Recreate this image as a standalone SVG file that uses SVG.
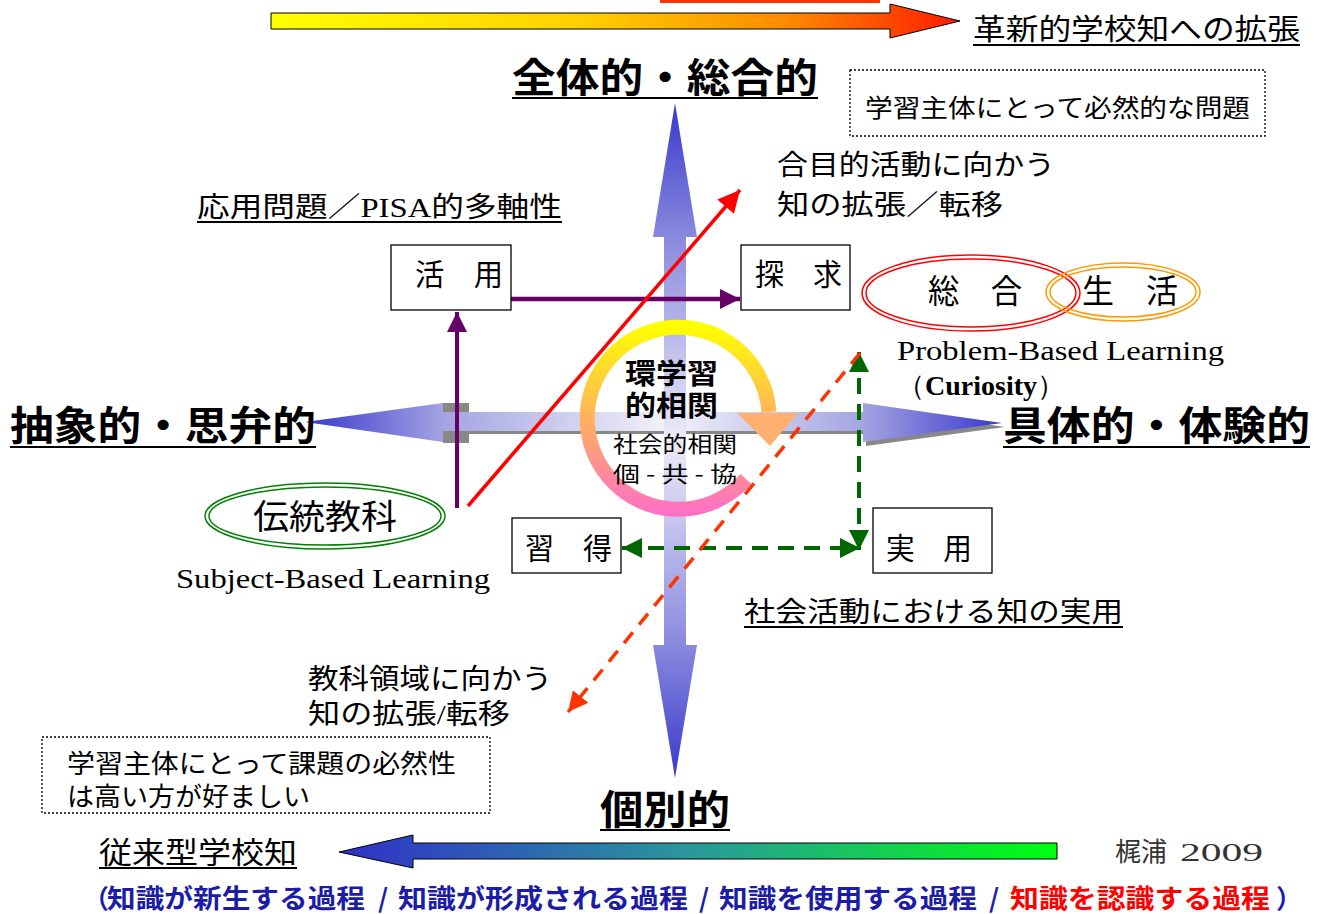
<svg xmlns="http://www.w3.org/2000/svg" width="1321" height="914" viewBox="0 0 1321 914">
<style>
.jp{font-family:"Liberation Serif","Noto Sans CJK JP",serif;fill:#000}
.hd{font-family:"Noto Sans CJK JP","Noto Sans",sans-serif;font-weight:bold;fill:#000}
.gs{font-family:"Noto Sans CJK JP","Noto Sans",sans-serif;fill:#000}
.en{font-family:"Liberation Serif",serif;fill:#000}
.box{fill:#fff;stroke:#000;stroke-width:1.3}
.dot{fill:#fff;stroke:#000;stroke-width:1.3;stroke-dasharray:2 2}
.ul{stroke:#000;stroke-width:2.2}
.bl{font-family:"Noto Sans CJK JP","Noto Sans",sans-serif;font-weight:bold;fill:#1c1ca8;font-size:26px}
</style>
<defs>
<linearGradient id="gTop" gradientUnits="userSpaceOnUse" x1="271" y1="0" x2="960" y2="0">
<stop offset="0" stop-color="#ffff00"/><stop offset="0.45" stop-color="#ffd000"/><stop offset="0.75" stop-color="#ff8a00"/><stop offset="1" stop-color="#ff1a00"/>
</linearGradient>
<linearGradient id="gBot" gradientUnits="userSpaceOnUse" x1="339" y1="0" x2="1057" y2="0">
<stop offset="0" stop-color="#3030c8"/><stop offset="0.5" stop-color="#2a9a9a"/><stop offset="1" stop-color="#00ff10"/>
</linearGradient>
<linearGradient id="gV" gradientUnits="userSpaceOnUse" x1="0" y1="103" x2="0" y2="778">
<stop offset="0" stop-color="#3838cc"/><stop offset="0.2" stop-color="#8a8ade"/><stop offset="0.5" stop-color="#ececf8"/><stop offset="0.8" stop-color="#8a8ade"/><stop offset="1" stop-color="#3838cc"/>
</linearGradient>
<linearGradient id="gH" gradientUnits="userSpaceOnUse" x1="305" y1="0" x2="1002" y2="0">
<stop offset="0" stop-color="#3838cc"/><stop offset="0.2" stop-color="#a4a4e2"/><stop offset="0.52" stop-color="#f2f2fa"/><stop offset="0.8" stop-color="#a4a4e2"/><stop offset="1" stop-color="#3838cc"/>
</linearGradient>
<linearGradient id="gRing" gradientUnits="userSpaceOnUse" x1="0" y1="325" x2="0" y2="515">
<stop offset="0" stop-color="#ffff00"/><stop offset="0.5" stop-color="#ffb060"/><stop offset="1" stop-color="#ff6ec7"/>
</linearGradient>
<marker id="mP" viewBox="0 0 10 10" refX="10" refY="5" markerWidth="20" markerHeight="20" markerUnits="userSpaceOnUse" orient="auto"><path d="M0,0 L10,5 L0,10 z" fill="#660066"/></marker>
<marker id="mR" viewBox="0 0 10 10" refX="10" refY="5" markerWidth="24" markerHeight="22" markerUnits="userSpaceOnUse" orient="auto"><path d="M0,0 L10,5 L0,10 z" fill="#ff0000"/></marker>
<marker id="mG" viewBox="0 0 10 10" refX="10" refY="5" markerWidth="20" markerHeight="20" markerUnits="userSpaceOnUse" orient="auto-start-reverse"><path d="M0,0 L10,5 L0,10 z" fill="#006600"/></marker>
<marker id="mO" viewBox="0 0 10 10" refX="10" refY="5" markerWidth="20" markerHeight="20" markerUnits="userSpaceOnUse" orient="auto"><path d="M0,0 L10,5 L0,10 z" fill="#ff3300"/></marker>
</defs>

<g id="top-banner">
<rect x="660" y="-3" width="220" height="6" fill="#ff3300"/>
<polygon points="271,13 890,13 890,4 960,21 890,38 890,29 271,29" fill="url(#gTop)" stroke="#000" stroke-width="1"/>
<text class="gs" x="973" y="40" font-size="29" textLength="327" lengthAdjust="spacingAndGlyphs">革新的学校知への拡張</text>
<line class="ul" x1="973" y1="45" x2="1300" y2="45"/>
</g>

<g id="axis-horizontal">
<rect x="443" y="403" width="26" height="40" fill="#888"/>
<rect x="443" y="430" width="423" height="4" fill="#888"/>
<polygon points="866,407 1005,427 866,446" fill="#888"/>
<polygon points="305,422 443,403 443,412 863,412 863,403 1002,423 863,442 863,431 443,431 443,442" fill="url(#gH)"/>
</g>
<g id="axis-vertical">
<polygon points="675,103 697,237 686,237 686,645 697,645 675,778 653,645 664,645 664,237 653,237" fill="url(#gV)"/>
</g>

<g id="cycle">
<path d="M746,479 A91,91 0 1 1 769,412" fill="none" stroke="url(#gRing)" stroke-width="15"/>
<polygon points="737,413 798,413 770,446" fill="#ffb070"/>
<text class="hd" x="625" y="384" font-size="28" textLength="93" lengthAdjust="spacingAndGlyphs">環学習</text>
<text class="hd" x="625" y="416" font-size="28" textLength="93" lengthAdjust="spacingAndGlyphs">的相関</text>
<text class="gs" x="613" y="452" font-size="22" textLength="124" lengthAdjust="spacingAndGlyphs">社会的相関</text>
<text class="gs" x="613" y="482" font-size="22" textLength="124" lengthAdjust="spacingAndGlyphs">個 - 共 - 協</text>
</g>

<g id="connectors">
<line x1="511" y1="299" x2="740" y2="299" stroke="#660066" stroke-width="4.5" marker-end="url(#mP)"/>
<line x1="457" y1="508" x2="457" y2="312" stroke="#660066" stroke-width="4" marker-end="url(#mP)"/>
<line x1="468" y1="506" x2="740" y2="190" stroke="#ff0000" stroke-width="3.5" marker-end="url(#mR)"/>
<line x1="622" y1="548" x2="860" y2="548" stroke="#006600" stroke-width="4" stroke-dasharray="16 10" marker-start="url(#mG)" marker-end="url(#mG)"/>
<line x1="859" y1="550" x2="859" y2="352" stroke="#006600" stroke-width="4" stroke-dasharray="16 10" marker-start="url(#mG)" marker-end="url(#mG)"/>
<line x1="860" y1="353" x2="568" y2="712" stroke="#ff3300" stroke-width="3.5" stroke-dasharray="14 10" marker-end="url(#mO)"/>
</g>

<g id="label-zentai">
<text class="hd" x="512" y="92" font-size="40" textLength="306" lengthAdjust="spacingAndGlyphs">全体的・総合的</text>
<line class="ul" x1="512" y1="98" x2="818" y2="98"/>
</g>
<g id="note-top">
<rect class="dot" x="850" y="70" width="415" height="66"/>
<text class="jp" x="865" y="117" font-size="25" textLength="385" lengthAdjust="spacingAndGlyphs">学習主体にとって必然的な問題</text>
</g>
<g id="label-goal">
<text class="jp" x="777" y="175" font-size="28" textLength="278" lengthAdjust="spacingAndGlyphs">合目的活動に向かう</text>
<text class="jp" x="777" y="215" font-size="28" textLength="226" lengthAdjust="spacingAndGlyphs">知の拡張／転移</text>
</g>
<g id="label-pisa">
<text class="jp" x="197" y="217" font-size="28" textLength="365" lengthAdjust="spacingAndGlyphs">応用問題／PISA的多軸性</text>
<line class="ul" x1="197" y1="222" x2="562" y2="222" stroke-width="1.5"/>
</g>
<g id="node-katsuyo">
<rect class="box" x="391" y="245" width="120" height="65"/>
<text class="jp" x="415" y="285" font-size="30" textLength="88" lengthAdjust="spacingAndGlyphs">活　用</text>
</g>
<g id="node-tankyu">
<rect class="box" x="741" y="245" width="109" height="65"/>
<text class="jp" x="755" y="285" font-size="30" textLength="87" lengthAdjust="spacingAndGlyphs">探　求</text>
</g>
<g id="node-sogo">
<ellipse cx="971" cy="293" rx="109" ry="38" fill="none" stroke="#ff0000" stroke-width="1.5"/>
<ellipse cx="971" cy="293" rx="105" ry="34" fill="none" stroke="#ff0000" stroke-width="1.5"/>
<text class="jp" x="928" y="303" font-size="33" textLength="94" lengthAdjust="spacingAndGlyphs">総　合</text>
</g>
<g id="node-seikatsu">
<ellipse cx="1123" cy="292" rx="77" ry="29" fill="none" stroke="#ff9900" stroke-width="1.5"/>
<ellipse cx="1123" cy="292" rx="73" ry="25" fill="none" stroke="#ff9900" stroke-width="1.5"/>
<text class="jp" x="1082" y="303" font-size="33" textLength="96" lengthAdjust="spacingAndGlyphs">生　活</text>
</g>
<g id="label-pbl">
<text class="en" x="897" y="360" font-size="28" textLength="327" lengthAdjust="spacingAndGlyphs">Problem-Based Learning</text>
<text class="en" x="897" y="395" font-size="28">（<tspan font-weight="bold">Curiosity</tspan>）</text>
</g>
<g id="label-chusho">
<text class="hd" x="10" y="440" font-size="40" textLength="306" lengthAdjust="spacingAndGlyphs">抽象的・思弁的</text>
<line class="ul" x1="10" y1="447" x2="316" y2="447"/>
</g>
<g id="label-gutai">
<text class="hd" x="1003" y="440" font-size="40" textLength="307" lengthAdjust="spacingAndGlyphs">具体的・体験的</text>
<line class="ul" x1="1003" y1="447" x2="1310" y2="447"/>
</g>
<g id="node-dento">
<ellipse cx="325" cy="516" rx="120" ry="33" fill="none" stroke="#008000" stroke-width="1.5"/>
<ellipse cx="325" cy="516" rx="116" ry="29" fill="none" stroke="#008000" stroke-width="1.5"/>
<text class="jp" x="253" y="529" font-size="34" textLength="144" lengthAdjust="spacingAndGlyphs">伝統教科</text>
</g>
<g id="label-sbl">
<text class="en" x="176" y="588" font-size="28" textLength="314" lengthAdjust="spacingAndGlyphs">Subject-Based Learning</text>
</g>
<g id="node-shutoku">
<rect class="box" x="512" y="518" width="109" height="55"/>
<text class="jp" x="525" y="559" font-size="30" textLength="87" lengthAdjust="spacingAndGlyphs">習　得</text>
</g>
<g id="node-jitsuyo">
<rect class="box" x="873" y="508" width="119" height="65"/>
<text class="jp" x="886" y="559" font-size="30" textLength="86" lengthAdjust="spacingAndGlyphs">実　用</text>
</g>
<g id="label-shakai">
<text class="jp" x="744" y="622" font-size="28" textLength="379" lengthAdjust="spacingAndGlyphs">社会活動における知の実用</text>
<line class="ul" x1="744" y1="627" x2="1123" y2="627" stroke-width="1.5"/>
</g>
<g id="label-kyoka">
<text class="jp" x="308" y="689" font-size="28" textLength="244" lengthAdjust="spacingAndGlyphs">教科領域に向かう</text>
<text class="jp" x="308" y="724" font-size="28" textLength="202" lengthAdjust="spacingAndGlyphs">知の拡張/転移</text>
</g>
<g id="note-bottom">
<rect class="dot" x="42" y="737" width="448" height="76"/>
<text class="jp" x="67" y="773" font-size="26" textLength="389" lengthAdjust="spacingAndGlyphs">学習主体にとって課題の必然性</text>
<text class="jp" x="67" y="806" font-size="26" textLength="243" lengthAdjust="spacingAndGlyphs">は高い方が好ましい</text>
</g>
<g id="label-kobetsu">
<text class="hd" x="600" y="824" font-size="40" textLength="130" lengthAdjust="spacingAndGlyphs">個別的</text>
<line class="ul" x1="600" y1="830" x2="730" y2="830"/>
</g>
<g id="bottom-banner">
<polygon points="339,852 413,835 413,843 1057,843 1057,859 413,859 413,868" fill="url(#gBot)" stroke="#000" stroke-width="1"/>
<text class="gs" x="99" y="863" font-size="30" textLength="198" lengthAdjust="spacingAndGlyphs">従来型学校知</text>
<line class="ul" x1="99" y1="868" x2="297" y2="868"/>
<text class="jp" x="1115" y="861" font-size="26" style="fill:#333">梶浦 <tspan x="1180" textLength="83" lengthAdjust="spacingAndGlyphs">2009</tspan></text>
</g>
<g id="process-line">
<text class="bl" x="83" y="908">（</text>
<text class="bl" x="107" y="908" textLength="258" lengthAdjust="spacingAndGlyphs">知識が新生する過程</text>
<text class="bl" x="378" y="908">/</text>
<text class="bl" x="398" y="908" textLength="290" lengthAdjust="spacingAndGlyphs">知識が形成される過程</text>
<text class="bl" x="699" y="908">/</text>
<text class="bl" x="719" y="908" textLength="258" lengthAdjust="spacingAndGlyphs">知識を使用する過程</text>
<text class="bl" x="989" y="908">/</text>
<text class="bl" x="1010" y="908" textLength="260" lengthAdjust="spacingAndGlyphs" style="fill:#ff0000">知識を認識する過程</text>
<text class="bl" x="1276" y="908">）</text>
</g>
</svg>
